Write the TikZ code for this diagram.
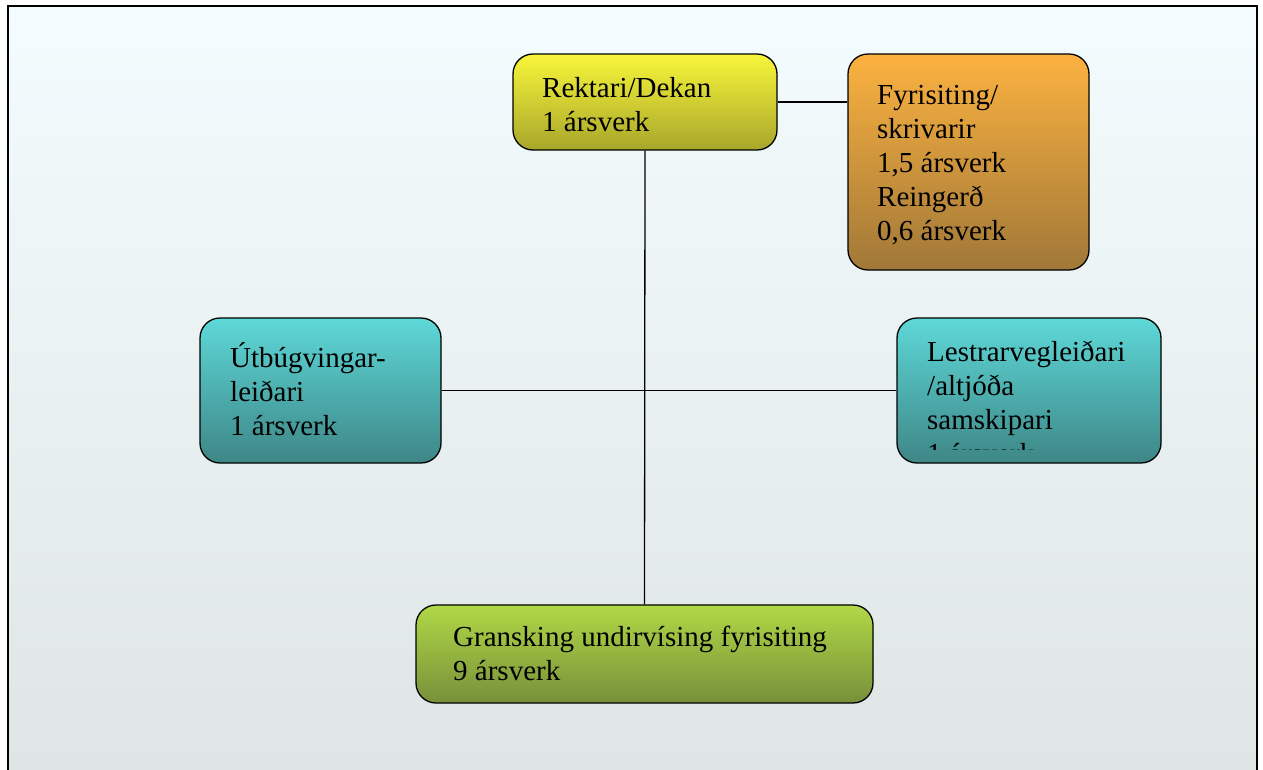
\documentclass[tikz,border=0pt]{standalone}
\usepackage{fontspec}
\setmainfont{Liberation Serif}

\definecolor{frametop}{RGB}{243,252,254}
\definecolor{framebot}{RGB}{222,228,227}
\definecolor{yeltop}{RGB}{248,246,58}
\definecolor{yelbot}{RGB}{168,166,42}
\definecolor{orgtop}{RGB}{252,178,64}
\definecolor{orgbot}{RGB}{160,120,56}
\definecolor{tealtop}{RGB}{94,216,216}
\definecolor{tealbot}{RGB}{62,134,134}
\definecolor{grntop}{RGB}{176,216,70}
\definecolor{grnbot}{RGB}{120,144,58}

\tikzset{
    orgbox/.style={draw=black, line width=1.3pt, rounded corners=20pt, inner sep=0pt},
    orgtext/.style={anchor=north west, align=left, inner sep=0pt, font=\fontsize{29}{34}\selectfont},
    link/.style={draw=black, line width=1.3pt}
}

\begin{document}
\begin{tikzpicture}[x=1pt,y=-1pt]
    \useasboundingbox (0,0) rectangle (1263,769);

    % frame
    \begin{scope}
        \clip (0,0) rectangle (1263,769);
        \draw[line width=2pt, top color=frametop, bottom color=framebot] (8,6) rectangle (1257,800);
    \end{scope}

    \coordinate (P1) at (645,102);    % rektari
    \coordinate (P2) at (968.5,162);  % fyrisiting
    \coordinate (P3) at (320.5,390.5); % utbugving
    \coordinate (P4) at (1029,390.5); % lestrarveg
    \coordinate (P5) at (644.5,654);  % gransking

    \node[orgbox, minimum width=264pt, minimum height=96pt, top color=yeltop, bottom color=yelbot] (rek) at (P1) {};
    \node[orgbox, minimum width=241pt, minimum height=216pt, top color=orgtop, bottom color=orgbot] (fyr) at (P2) {};
    \node[orgbox, minimum width=241pt, minimum height=145pt, top color=tealtop, bottom color=tealbot] (utb) at (P3) {};
    \node[orgbox, minimum width=264pt, minimum height=145pt, top color=tealtop, bottom color=tealbot] (les) at (P4) {};
    \node[orgbox, minimum width=457pt, minimum height=98pt, top color=grntop, bottom color=grnbot] (gra) at (P5) {};

    \node[orgtext] (rektxt) at (542,77) {Rektari/Dekan\\1 ársverk};
    \node[orgtext] (fyrtxt) at (877,85) {Fyrisiting/\\skrivarir\\1,5 ársverk\\Reingerð\\0,6 ársverk};
    \node[orgtext] (utbtxt) at (230,342) {Útbúgvingar-\\leiðari\\1 ársverk};
    \node[orgtext] (gratxt) at (453,626) {Gransking undirvísing fyrisiting\\9 ársverk};

    % text cut off at the bottom
    \coordinate (lescut) at (1161,449);
    \begin{scope}
        \clip (les.north west) rectangle (lescut);
        \node[orgtext] (lestxt) at (927,341) {Lestrarvegleiðari\\/altjóða\\samskipari\\1 ársverk};
    \end{scope}

    \draw[link] (rek.south) -- (gra.north);
    \draw[link] (utb.east) -- (les.west);
    \draw[link] (rek.east) -- (rek.east -| fyr.west);

\end{tikzpicture}
\end{document}
